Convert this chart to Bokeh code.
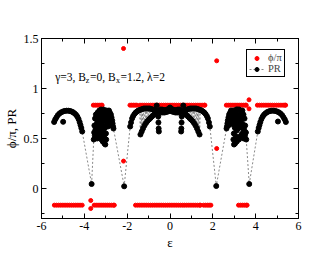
from bokeh.plotting import figure
from bokeh.models import (ColumnDataSource, FixedTicker, LinearAxis, Legend,
                          LegendItem, Label, Range1d, CustomLabelingPolicy)
from bokeh.embed import file_html
from bokeh.resources import INLINE

# ---------------- data ----------------
x_ticks = [-6, -4, -2, 0, 2, 4, 6]
x_minor = [-5, -3, -1, 1, 3, 5]
x_tick_labels = ["-6", "-4", "-2", "0", "2", "4", "6"]
y_ticks = [0, 0.5, 1, 1.5]
y_minor = [-0.25, 0.25, 0.75, 1.25]
y_tick_labels = ["0", "0.5", "1", "1.5"]

# phi/pi : points on the two plateaus
phi_low = -1.0 / 6.0
phi_high = 5.0 / 6.0
eps_low = [-5.40, -5.30, -5.20, -5.10, -5.00, -4.90, -4.80, -4.70, -4.60, -4.50,
           -4.40, -4.30, -4.20, -4.10,
           -3.54, -3.45, -3.36, -3.27, -3.18, -3.09, -3.00, -2.91, -2.82, -2.73,
           -2.64, -2.60,
           -1.61, -1.51, -1.41, -1.31, -1.21, -1.11, -1.01, -0.91, -0.81, -0.71,
           -0.61, -0.51, -0.41, -0.31, -0.21, -0.11, -0.01, 0.09, 0.19, 0.29,
           0.39, 0.49, 0.59,
           0.68, 0.78, 0.88, 0.98, 1.08, 1.18, 1.28, 1.38, 1.42,
           1.57, 1.66, 1.75, 1.83, 1.91,
           3.20, 3.29, 3.38, 3.47, 3.56, 3.60]
eps_high = [-3.58, -3.49, -3.40, -3.31, -3.22, -3.17,
            -1.87, -1.79, -1.71, -1.63, -1.55,
            -1.40, -1.30, -1.20, -1.10, -1.00, -0.90, -0.80, -0.70, -0.60, -0.50,
            -0.40, -0.30, -0.20, -0.10, 0.00, 0.10, 0.20, 0.30, 0.40, 0.50,
            0.60, 0.70, 0.80, 0.90, 1.00, 1.10, 1.20, 1.30, 1.40, 1.50, 1.60, 1.63,
            2.63, 2.72, 2.81, 2.90, 2.99, 3.08, 3.17, 3.26, 3.35, 3.44, 3.52, 3.56,
            4.08, 4.18, 4.28, 4.38, 4.48, 4.58, 4.68, 4.78, 4.88, 4.98, 5.08, 5.18,
            5.28, 5.36, 5.40]
eps_phi_extra = [-3.70, -3.70, 3.69, 3.69, -2.17, 2.18, -2.17, 2.18]
phi_extra = [-0.12, -0.20, 0.887, 0.797, 1.40, 1.277, 0.274, 0.40]

# participation ratio (sorted in energy)
pr_eps = [
    -5.41, -5.36, -5.30, -5.23, -5.15, -5.07, -4.99, -4.91, -4.83, -4.75,
    -4.67, -4.60, -4.53, -4.46, -4.39, -4.33, -4.27, -4.22, -4.18, -4.14, -4.10,
    -3.66,
    -3.56, -3.54, -3.53, -3.51, -3.50, -3.48, -3.47, -3.46, -3.44, -3.43,
    -3.42, -3.40, -3.39, -3.38, -3.36, -3.35, -3.34, -3.32, -3.31, -3.30,
    -3.28, -3.27, -3.26, -3.24, -3.23, -3.22, -3.20, -3.19, -3.18, -3.16,
    -3.15, -3.14, -3.12, -3.11, -3.10, -3.08, -3.07, -3.06, -3.04, -3.03,
    -3.02, -3.00, -2.99, -2.98, -2.96, -2.95, -2.93, -2.91, -2.90, -2.88,
    -2.87, -2.85, -2.84, -2.82, -2.81, -2.79, -2.78, -2.76, -2.75, -2.73,
    -2.72, -2.70, -2.68, -2.66, -2.64,
    -2.14,
    -1.86, -1.82, -1.77, -1.72, -1.66, -1.60, -1.54, -1.48, -1.42, -1.38,
    -1.35, -1.32, -1.29, -1.26, -1.22, -1.19, -1.15, -1.12, -1.08, -1.05,
    -1.01, -0.98, -0.94, -0.91, -0.87, -0.84, -0.80, -0.77, -0.73, -0.70,
    -0.66, -0.62, -0.58, -0.55, -0.54, -0.53, -0.52, -0.49, -0.45, -0.41,
    -0.37, -0.33, -0.29, -0.25, -0.21, -0.17, -0.13, -0.09, -0.05, 0.00,
    0.05, 0.09, 0.13, 0.17, 0.21, 0.25, 0.29, 0.33, 0.37, 0.41,
    0.45, 0.49, 0.52, 0.53, 0.54, 0.55, 0.58, 0.62, 0.66, 0.70,
    0.73, 0.77, 0.80, 0.84, 0.87, 0.91, 0.94, 0.98, 1.01, 1.05,
    1.08, 1.12, 1.15, 1.19, 1.22, 1.26, 1.29, 1.32, 1.35, 1.38,
    1.42, 1.48, 1.54, 1.60, 1.66, 1.72, 1.77, 1.82, 1.86,
    2.16,
    2.64, 2.66, 2.68, 2.70, 2.72, 2.73, 2.75, 2.76, 2.78, 2.79,
    2.81, 2.82, 2.84, 2.85, 2.87, 2.88, 2.90, 2.91, 2.93, 2.95,
    2.96, 2.98, 2.99, 3.00, 3.02, 3.03, 3.04, 3.06, 3.07, 3.08,
    3.10, 3.11, 3.12, 3.14, 3.15, 3.16, 3.18, 3.19, 3.20, 3.22,
    3.23, 3.24, 3.26, 3.27, 3.28, 3.30, 3.31, 3.32, 3.34, 3.35,
    3.36, 3.38, 3.39, 3.40, 3.42, 3.43, 3.44, 3.46, 3.47, 3.48,
    3.50, 3.51, 3.53, 3.54, 3.56,
    3.70,
    4.10, 4.14, 4.18, 4.22, 4.27, 4.33, 4.39, 4.46, 4.53, 4.60,
    4.67, 4.75, 4.83, 4.91, 4.99, 5.07, 5.15, 5.23, 5.30, 5.36, 5.41]
pr_val = [
    0.665, 0.690, 0.712, 0.735, 0.752, 0.763, 0.771, 0.776, 0.778, 0.778,
    0.775, 0.770, 0.763, 0.752, 0.738, 0.720, 0.695, 0.665, 0.635, 0.605, 0.570,
    0.045,
    0.49, 0.56, 0.63, 0.53, 0.70, 0.59, 0.51, 0.74, 0.64, 0.56,
    0.69, 0.50, 0.61, 0.76, 0.54, 0.67, 0.72, 0.58, 0.63, 0.78,
    0.52, 0.69, 0.74, 0.60, 0.66, 0.79, 0.49, 0.71, 0.56, 0.77,
    0.63, 0.47, 0.73, 0.58, 0.79, 0.52, 0.68, 0.45, 0.76, 0.61,
    0.44, 0.72, 0.55, 0.49, 0.78, 0.65, 0.70, 0.77, 0.62, 0.74,
    0.68, 0.78, 0.66, 0.72, 0.76, 0.64, 0.70, 0.74, 0.66, 0.71,
    0.63, 0.68, 0.65, 0.62, 0.60,
    0.022,
    0.62, 0.66, 0.70, 0.725, 0.745, 0.76, 0.77, 0.78, 0.785, 0.54,
    0.79, 0.57, 0.795, 0.60, 0.80, 0.63, 0.80, 0.655, 0.80, 0.675,
    0.80, 0.69, 0.80, 0.705, 0.795, 0.72, 0.79, 0.735, 0.785, 0.75,
    0.78, 0.83, 0.775, 0.72, 0.66, 0.60, 0.57, 0.77, 0.79, 0.76,
    0.79, 0.76, 0.785, 0.76, 0.785, 0.765, 0.79, 0.77, 0.80, 0.81,
    0.80, 0.77, 0.79, 0.765, 0.785, 0.76, 0.785, 0.76, 0.79, 0.76,
    0.79, 0.77, 0.57, 0.60, 0.66, 0.72, 0.775, 0.83, 0.78, 0.75,
    0.785, 0.735, 0.79, 0.72, 0.795, 0.705, 0.80, 0.69, 0.80, 0.675,
    0.80, 0.655, 0.80, 0.63, 0.80, 0.60, 0.795, 0.57, 0.79, 0.54,
    0.785, 0.78, 0.77, 0.76, 0.745, 0.725, 0.70, 0.66, 0.62,
    0.025,
    0.60, 0.62, 0.65, 0.68, 0.63, 0.71, 0.66, 0.74, 0.70, 0.64,
    0.76, 0.72, 0.66, 0.78, 0.74, 0.68, 0.77, 0.70, 0.65, 0.78,
    0.49, 0.55, 0.44, 0.72, 0.61, 0.65, 0.45, 0.76, 0.68, 0.52,
    0.79, 0.58, 0.47, 0.73, 0.63, 0.79, 0.60, 0.69, 0.71, 0.49,
    0.79, 0.66, 0.63, 0.74, 0.52, 0.69, 0.67, 0.72, 0.54, 0.76,
    0.61, 0.78, 0.63, 0.64, 0.56, 0.74, 0.50, 0.59, 0.51, 0.70,
    0.53, 0.63, 0.56, 0.56, 0.49,
    0.045,
    0.570, 0.605, 0.635, 0.665, 0.695, 0.720, 0.738, 0.752, 0.763, 0.770,
    0.775, 0.778, 0.778, 0.776, 0.771, 0.763, 0.752, 0.735, 0.712, 0.690, 0.665]
pr_iso_eps = [-4.99, 5.04]
pr_iso_val = [0.667, 0.670]

# ---------------- figure ----------------
SERIF = "Liberation Serif, Times New Roman, serif"
p = figure(frame_width=257, frame_height=180,
           x_range=Range1d(-6, 6), y_range=Range1d(-0.3, 1.5),
           output_backend="svg", toolbar_location=None,
           min_border_left=30, min_border_top=38, min_border_right=4,
           min_border_bottom=5, background_fill_color="white",
           border_fill_color="white")
p.xgrid.visible = False
p.ygrid.visible = False
p.outline_line_color = "black"
p.outline_line_width = 1

xt = FixedTicker(ticks=x_ticks, minor_ticks=x_minor)
yt = FixedTicker(ticks=y_ticks, minor_ticks=y_minor)

def style_axis(ax):
    ax.major_tick_in = 5
    ax.major_tick_out = 0
    ax.minor_tick_in = 3
    ax.minor_tick_out = 0
    ax.axis_line_color = "black"
    ax.major_tick_line_color = "black"
    ax.minor_tick_line_color = "black"
    ax.major_label_text_font = SERIF
    ax.major_label_text_color = "black"
    ax.major_label_text_font_size = "12px"
    ax.major_label_standoff = 3
    ax.axis_label_text_font = SERIF
    ax.axis_label_text_font_style = "normal"
    ax.axis_label_text_font_size = "13px"
    ax.axis_label_text_color = "black"

p.xaxis[0].ticker = xt
p.yaxis[0].ticker = yt
p.xaxis[0].major_label_overrides = dict(zip(x_ticks, x_tick_labels))
p.yaxis[0].major_label_overrides = dict(zip(y_ticks, y_tick_labels))
p.xaxis[0].axis_label = "ε"
p.yaxis[0].axis_label = "ϕ/π, PR"
style_axis(p.xaxis[0])
style_axis(p.yaxis[0])
p.xaxis[0].axis_label_standoff = 2
p.yaxis[0].axis_label_standoff = 2

no_labels = CustomLabelingPolicy(code="return []")
top = LinearAxis(ticker=xt, major_label_policy=no_labels)
right = LinearAxis(ticker=yt, major_label_policy=no_labels)
style_axis(top)
style_axis(right)
p.add_layout(top, "above")
p.add_layout(right, "right")

red_src = ColumnDataSource(dict(
    x=eps_low + eps_high + eps_phi_extra,
    y=[phi_low] * len(eps_low) + [phi_high] * len(eps_high) + phi_extra))
pr_src = ColumnDataSource(dict(x=pr_eps, y=pr_val))
iso_src = ColumnDataSource(dict(x=pr_iso_eps, y=pr_iso_val))

r_red = p.scatter("x", "y", source=red_src, size=4, marker="circle",
                  fill_color="#ff0000", line_color="#ff0000")
r_line = p.line("x", "y", source=pr_src, line_color="#555555",
                line_width=0.7, line_dash="2 2")
r_black = p.scatter("x", "y", source=pr_src, size=5, marker="circle",
                    fill_color="black", line_color="black")
p.scatter("x", "y", source=iso_src, size=5, marker="circle",
          fill_color="black", line_color="black")

legend = Legend(items=[LegendItem(label="ϕ/π", renderers=[r_red]),
                       LegendItem(label="PR", renderers=[r_line, r_black])],
                location=(205, 141), orientation="vertical",
                border_line_color="black", border_line_width=1,
                border_line_alpha=1.0,
                background_fill_color="white", background_fill_alpha=1,
                label_text_font=SERIF, label_text_font_size="10.5px",
                glyph_width=15, glyph_height=10, label_height=10,
                label_width=12, label_standoff=4, padding=2, spacing=0,
                margin=0)
p.add_layout(legend)

# annotation text with subscripts
ann_font = "11.5px"
pieces = [("γ=3, B", 13.7, 142, ann_font),
          ("z", 44.3, 138, "8px"),
          ("=0, B", 48.4, 142, ann_font),
          ("x", 74.6, 138, "8px"),
          ("=1.2, λ=2", 79.0, 142, ann_font)]
for txt, sx, sy, fs in pieces:
    p.add_layout(Label(x=sx, y=sy, x_units="screen", y_units="screen",
                       text=txt, text_font=SERIF, text_font_size=fs,
                       text_color="black", text_baseline="alphabetic",
                       text_align="left"))

open("out.html", "w").write(file_html(p, INLINE))
